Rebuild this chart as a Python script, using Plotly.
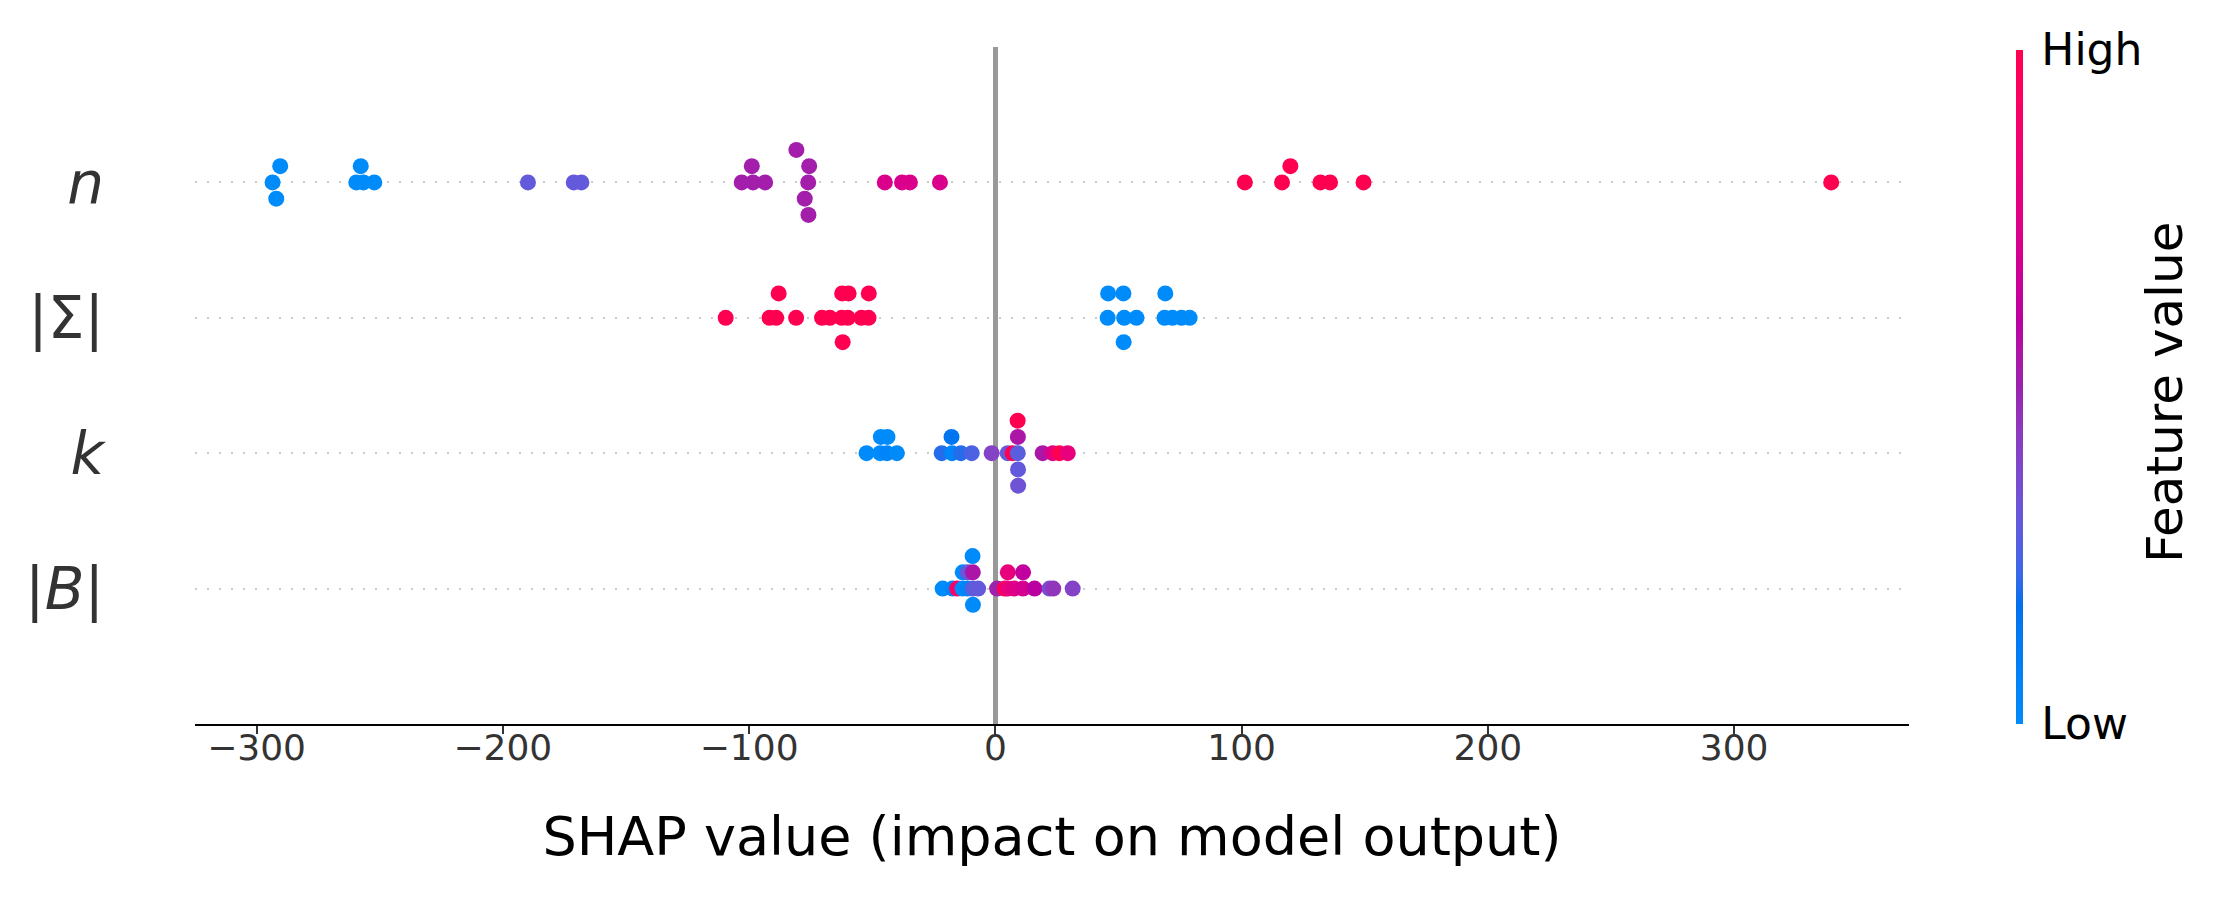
import numpy as np
import plotly.graph_objects as go

# ---------------- data ----------------
feature_labels = ["|<i>B</i>|", "<i>k</i>", "|Σ|", "<i>n</i>"]   # bottom -> top
x_ticks = [-300, -200, -100, 0, 100, 200, 300]

n_shap = [-293.5, -290.4, -292.0, -259.5, -256.6, -257.7, -252.2, -189.8, -171.2, -168.1,
          -103.0, -98.4, -98.9, -93.5, -76.0, -75.6, -77.4, -80.8, -75.9,
          -44.9, -37.9, -34.7, -22.5, 101.3, 116.4, 119.8, 132.0, 135.9, 149.5, 339.4]
n_feat = [0.0, 0.0, 0.0, 0.0, 0.0, 0.0, 0.0, 0.3, 0.3, 0.3,
          0.52, 0.52, 0.52, 0.52, 0.52, 0.52, 0.52, 0.52, 0.52,
          0.72, 0.72, 0.72, 0.72, 1.0, 1.0, 1.0, 1.0, 1.0, 1.0, 1.0]

sig_shap = [-109.5, -91.7, -89.0, -88.0, -80.9, -70.4, -67.2, -62.4, -62.2, -62.0,
            -59.9, -59.6, -54.4, -51.5, -51.4,
            45.6, 45.8, 52.3, 52.0, 52.1, 57.3, 68.7, 69.0, 71.9, 75.6, 78.9]
sig_feat = [1.0] * 15 + [0.0] * 11

k_shap = [-52.3, -46.8, -46.5, -44.0, -43.8, -40.0, -21.8, -17.6, -17.8, -14.0, -9.6, -1.5,
          5.0, 7.0, 9.1, 9.15, 9.2, 9.05, 9.25, 19.2, 23.3, 26.0, 29.4]
k_feat = [0.0, 0.0, 0.0, 0.05, 0.0, 0.0, 0.2, 0.05, 0.15, 0.2, 0.25, 0.4,
          0.3, 1.0, 0.28, 0.55, 0.3, 1.0, 0.33, 0.55, 0.75, 1.0, 0.8]

b_shap = [-21.4, -17.4, -15.5, -13.3, -13.25, -11.3, -11.25, -9.2, -9.15, -9.1, -9.25,
          -7.0, 0.7, 3.8, 5.0, 5.05, 7.6, 11.2, 11.25, 15.9, 22.0, 23.5, 31.4]
b_feat = [0.0, 0.05, 0.9, 0.0, 0.0, 0.05, 0.3, 0.28, 0.55, 0.0, 0.0,
          0.3, 0.5, 1.0, 0.8, 0.8, 0.75, 0.7, 0.62, 0.6, 0.35, 0.45, 0.4]

rows = [(b_shap, b_feat), (k_shap, k_feat), (sig_shap, sig_feat), (n_shap, n_feat)]


# ---------------- shap red_blue colormap (LCH interpolation) ----------------
def lch2rgb(l, c, h):
    a = c * np.cos(h)
    b = c * np.sin(h)
    fy = (l + 16.0) / 116.0
    fx = a / 500.0 + fy
    fz = fy - b / 200.0

    def finv(t):
        return t ** 3 if t > 0.2068966 else (t - 16.0 / 116.0) / 7.787

    xyz = np.array([finv(fx) * 0.95047, finv(fy) * 1.0, finv(fz) * 1.08883])
    M = np.array([[3.24048134, -1.53715152, -0.49853633],
                  [-0.96925495, 1.87599, 0.04155593],
                  [0.05564664, -0.20404134, 1.05731107]])
    rgb = M @ xyz
    pos = np.clip(rgb, 0, None)
    rgb = np.where(rgb > 0.0031308, 1.055 * np.power(pos, 1 / 2.4) - 0.055, 12.92 * rgb)
    return np.clip(rgb, 0, 1)


blue_lch = [54.0, 70.0, 4.6588]
red_lch = [54.0, 90.0, 0.35470565 + 2 * np.pi]
l_mid = 40.0
colorscale = []
for p in np.linspace(0, 1, 41):
    if p <= 0.5:
        l = blue_lch[0] + (l_mid - blue_lch[0]) * (p / 0.5)
    else:
        l = l_mid + (red_lch[0] - l_mid) * ((p - 0.5) / 0.5)
    c = blue_lch[1] + (red_lch[1] - blue_lch[1]) * p
    h = blue_lch[2] + (red_lch[2] - blue_lch[2]) * p
    r, g, b = lch2rgb(l, c, h)
    colorscale.append([float(p), "rgb(%d,%d,%d)" % (round(r * 255), round(g * 255), round(b * 255))])


# ---------------- beeswarm layout (as in shap) ----------------
def swarm(shaps, row_height=0.4, nbins=100):
    s = np.asarray(shaps, float)
    quant = np.round(nbins * (s - s.min()) / (s.max() - s.min() + 1e-8))
    inds = np.argsort(quant, kind="stable")
    layer = 0
    last = None
    ys = np.zeros(len(s))
    for i in inds:
        if quant[i] != last:
            layer = 0
        ys[i] = np.ceil(layer / 2) * ((layer % 2) * 2 - 1)
        layer += 1
        last = quant[i]
    ys *= 0.9 * (row_height / np.max(ys + 1))
    return ys


fig = go.Figure()
for pos, (shaps, feats) in enumerate(rows):
    ys = swarm(shaps) + pos
    fig.add_trace(go.Scatter(
        x=shaps, y=ys, mode="markers", showlegend=False, hoverinfo="skip",
        marker=dict(
            size=16, color=feats, colorscale=colorscale, cmin=0, cmax=1,
            line=dict(width=0), opacity=1,
            showscale=(pos == 0),
            colorbar=dict(
                thickness=7, thicknessmode="pixels",
                len=674, lenmode="pixels",
                x=2008 / 2221, xref="container", xanchor="left",
                y=0.498, yanchor="middle", ypad=0, xpad=0,
                outlinewidth=0, ticks="outside", ticklen=10, tickcolor="rgba(0,0,0,0)",
                tickvals=[0, 1], ticktext=["Low", "High"],
                tickfont=dict(family="DejaVu Sans", size=44, color="#000000"),
            ),
        ),
    ))

fig.add_annotation(
    text="Feature value", xref="paper", yref="paper",
    x=(2157 - 187) / 1714, y=0.489, xanchor="center", yanchor="middle",
    textangle=-90, showarrow=False,
    font=dict(family="DejaVu Sans", size=50, color="#000000"),
)

fig.update_layout(
    width=2221, height=897,
    margin=dict(l=187, r=320, t=39, b=181, autoexpand=False),
    paper_bgcolor="white", plot_bgcolor="white",
    font=dict(family="DejaVu Sans", color="#333333"),
    xaxis=dict(
        range=[-325, 371], tickvals=x_ticks,
        ticks="outside", ticklen=8, tickwidth=1.5, tickcolor="#333333",
        showline=True, linecolor="#000000", linewidth=2,
        showgrid=False,
        zeroline=True, zerolinecolor="#999999", zerolinewidth=5,
        tickfont=dict(family="DejaVu Sans", size=36, color="#333333"),
        ticklabelstandoff=-17,
        title=dict(text="SHAP value (impact on model output)", standoff=50,
                   font=dict(family="DejaVu Sans", size=54, color="#000000")),
        automargin=False,
    ),
    yaxis=dict(
        range=[-1, 4], tickvals=[0, 1, 2, 3], ticktext=feature_labels,
        showgrid=True, gridcolor="#cccccc", griddash="2px,10px", gridwidth=1.5,
        zeroline=False, showline=False, ticks="",
        ticklabelstandoff=90,
        tickfont=dict(family="DejaVu Sans", size=58, color="#333333"),
        automargin=False,
    ),
)

fig.write_html("out.html")
